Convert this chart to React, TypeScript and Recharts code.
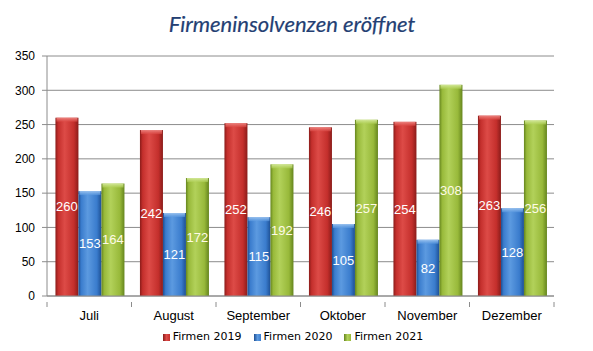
import React from "react";
import { BarChart, Bar, XAxis, YAxis, CartesianGrid, LabelList } from "recharts";

// Kategorien und Werte
const months = ["Juli", "August", "September", "Oktober", "November", "Dezember"];
const firmen2019 = [260, 242, 252, 246, 254, 263];
const firmen2020 = [153, 121, 115, 105, 82, 128];
const firmen2021 = [164, 172, 192, 257, 308, 256];
const yTicks = [0, 50, 100, 150, 200, 250, 300, 350];
const seriesNames = ["Firmen 2019", "Firmen 2020", "Firmen 2021"];

const palette = [
  { id: "red", dark: "#8a1c1a", mid: "#c42f2c", light: "#dd4b47", cap: "#ec8581" },
  { id: "blue", dark: "#1d4f93", mid: "#3a7ccd", light: "#5c9ae0", cap: "#9cc3ef" },
  { id: "green", dark: "#65851e", mid: "#98b93a", light: "#b2d15a", cap: "#d3e89a" },
];

const FONT = "'Liberation Sans', Arial, sans-serif";

function makeShape(idx: number) {
  const c = palette[idx];
  return (props: any) => {
    const { x, y, width, height } = props;
    if (!height || height <= 0) return null;
    const cap = Math.min(4, height);
    return (
      <g>
        <rect x={x} y={y} width={width} height={height} fill={`url(#grad-${c.id})`} />
        <rect x={x + 1} y={y} width={width - 2} height={cap} fill={`url(#cap-${c.id})`} />
      </g>
    );
  };
}

// Monatsbeschriftung mit Teilstrichen an den Kategoriegrenzen
function MonthTick(props: any) {
  const { x, y, payload, index, visibleTicksCount } = props;
  const half = payload && payload.offset ? payload.offset : 0;
  const axisY = y - 9;
  return (
    <g>
      {half > 0 && (
        <line x1={x - half} x2={x - half} y1={axisY} y2={axisY + 5} stroke="#8c8c8c" />
      )}
      {half > 0 && index === visibleTicksCount - 1 && (
        <line x1={x + half} x2={x + half} y1={axisY} y2={axisY + 5} stroke="#8c8c8c" />
      )}
      <text x={x} y={y} dy="0.71em" textAnchor="middle" fontSize={13} fill="#000" fontFamily={FONT}>
        {payload.value}
      </text>
    </g>
  );
}

export default function App() {
  const data = months.map((m, i) => ({
    month: m,
    f2019: firmen2019[i],
    f2020: firmen2020[i],
    f2021: firmen2021[i],
  }));

  return (
    <div style={{ position: "absolute", left: 0, top: 0, width: 593, height: 351, background: "#fff" }}>
      <svg width={593} height={50} style={{ position: "absolute", left: 0, top: 0 }}>
        <text
          x={292}
          y={32}
          textAnchor="middle"
          fontFamily="Lato, 'Open Sans', sans-serif"
          fontStyle="italic"
          fontWeight={400}
          fontSize={22}
          fill="#243f73"
          stroke="#243f73"
          strokeWidth={0.2}
        >
          Firmeninsolvenzen eröffnet
        </text>
      </svg>

      <BarChart
        width={593}
        height={351}
        data={data}
        margin={{ top: 56, right: 39, left: 0, bottom: 25 }}
        barCategoryGap="10%"
        barGap={0}
      >
        <defs>
          {palette.map((c) => (
            <React.Fragment key={c.id}>
              <linearGradient id={`grad-${c.id}`} x1="0" y1="0" x2="1" y2="0">
                <stop offset="0%" stopColor={c.dark} />
                <stop offset="12%" stopColor={c.mid} />
                <stop offset="40%" stopColor={c.light} />
                <stop offset="80%" stopColor={c.mid} />
                <stop offset="100%" stopColor={c.dark} />
              </linearGradient>
              <linearGradient id={`cap-${c.id}`} x1="0" y1="0" x2="0" y2="1">
                <stop offset="0%" stopColor={c.cap} />
                <stop offset="100%" stopColor={c.light} stopOpacity={0.6} />
              </linearGradient>
            </React.Fragment>
          ))}
        </defs>
        <CartesianGrid horizontal vertical={false} stroke="#8c8c8c" />
        <XAxis
          dataKey="month"
          axisLine={{ stroke: "#8c8c8c" }}
          tickLine={false}
          tickMargin={9}
          height={30}
          interval={0}
          tick={<MonthTick />}
        />
        <YAxis
          domain={[0, 350]}
          ticks={yTicks}
          width={47}
          axisLine={{ stroke: "#8c8c8c" }}
          tickLine={{ stroke: "#8c8c8c" }}
          tickSize={5}
          tickMargin={7}
          tick={{ fontSize: 12, fill: "#000", fontFamily: FONT }}
        />
        <Bar dataKey="f2019" name={seriesNames[0]} shape={makeShape(0)} isAnimationActive={false}>
          <LabelList dataKey="f2019" position="center" fill="#fff" fontSize={13} fontFamily={FONT} />
        </Bar>
        <Bar dataKey="f2020" name={seriesNames[1]} shape={makeShape(1)} isAnimationActive={false}>
          <LabelList dataKey="f2020" position="center" fill="#fff" fontSize={13} fontFamily={FONT} />
        </Bar>
        <Bar dataKey="f2021" name={seriesNames[2]} shape={makeShape(2)} isAnimationActive={false}>
          <LabelList dataKey="f2021" position="center" fill="#fffbe6" fontSize={13} fontFamily={FONT} />
        </Bar>
      </BarChart>

      {/* Legende */}
      <div
        style={{
          position: "absolute",
          left: 0,
          top: 330,
          width: 586,
          display: "flex",
          justifyContent: "center",
          gap: 12,
          fontFamily: "'DejaVu Sans', Verdana, sans-serif",
          fontSize: 11,
          color: "#000",
          lineHeight: "14px",
        }}
      >
        {seriesNames.map((name, i) => (
          <div key={name} style={{ display: "flex", alignItems: "center" }}>
            <span
              style={{
                display: "inline-block",
                width: 7,
                height: 7,
                marginRight: 3,
                background: `linear-gradient(to right, ${palette[i].dark}, ${palette[i].light}, ${palette[i].mid})`,
              }}
            />
            <span>{name}</span>
          </div>
        ))}
      </div>
    </div>
  );
}
